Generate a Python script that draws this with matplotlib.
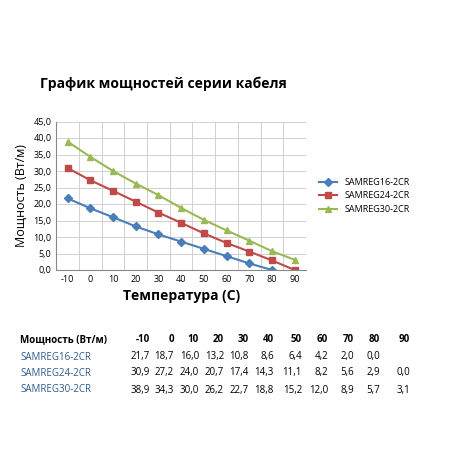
import matplotlib.pyplot as plt

temps = [-10, 0, 10, 20, 30, 40, 50, 60, 70, 80, 90]
s16 = [21.7, 18.7, 16.0, 13.2, 10.8, 8.6, 6.4, 4.2, 2.0, 0.0]
s24 = [30.9, 27.2, 24.0, 20.7, 17.4, 14.3, 11.1, 8.2, 5.6, 2.9, 0.0]
s30 = [38.9, 34.3, 30.0, 26.2, 22.7, 18.8, 15.2, 12.0, 8.9, 5.7, 3.1]
names = ['SAMREG16-2CR', 'SAMREG24-2CR', 'SAMREG30-2CR']

plt.rcParams['font.family'] = ['Open Sans', 'DejaVu Sans']
fig = plt.figure(figsize=(4.5, 4.5), dpi=100)
ax = fig.add_axes([0.125, 0.40, 0.555, 0.33])

series = [(s16, '#4A7EBB', 'D'), (s24, '#BE4B48', 's'), (s30, '#98B954', '^')]
pos = list(range(len(temps)))
for (vals, c, m), n in zip(series, names):
    ax.plot(pos[:len(vals)], vals, color=c, marker=m, markersize=4, lw=1.5, label=n)

ax.set_xlim(-0.5, len(temps) - 0.5)
ax.set_ylim(0, 45)
ax.set_yticks([i * 5 for i in range(10)])
ax.set_yticklabels([f'{i * 5:.1f}'.replace('.', ',') for i in range(10)], fontsize=6.5)
ax.set_xticks(pos)
ax.set_xticklabels(temps, fontsize=6.5)
ax.set_xticks([p + 0.5 for p in pos[:-1]], minor=True)
ax.grid(True, axis='y', color='#d0d0d0', lw=0.7)
ax.grid(True, axis='x', which='minor', color='#d0d0d0', lw=0.7)
ax.tick_params(length=0, which='both')
for s in ['top', 'right']:
    ax.spines[s].set_visible(False)
for s in ['left', 'bottom']:
    ax.spines[s].set_color('#888888')
ax.set_xlabel('Температура (С)', fontsize=10, fontweight='bold')
ax.set_ylabel('Мощность (Вт/м)', fontsize=9)
ax.legend(loc='center left', bbox_to_anchor=(1.02, 0.5), frameon=False, fontsize=6.5)
fig.text(0.09, 0.805, 'График мощностей серии кабеля', fontsize=10, fontweight='bold')

# table below the chart
col_x = [150, 174, 199, 224, 249, 274, 302, 328, 354, 380, 410]
fig.text(20 / 450, 1 - 340 / 450, 'Мощность (Вт/м)', fontsize=7, fontweight='bold', va='center')
for x, t in zip(col_x, temps):
    fig.text(x / 450, 1 - 340 / 450, str(t), fontsize=7, fontweight='bold', va='center', ha='right')
for row_y, n, vals in zip([357, 373, 390], names, [s16, s24, s30]):
    fig.text(20 / 450, 1 - row_y / 450, n, fontsize=7, color='#2E5C8A', va='center')
    for x, v in zip(col_x, vals):
        fig.text(x / 450, 1 - row_y / 450, f'{v:.1f}'.replace('.', ','), fontsize=7,
                 va='center', ha='right')

fig.savefig('out.png', dpi=100)
